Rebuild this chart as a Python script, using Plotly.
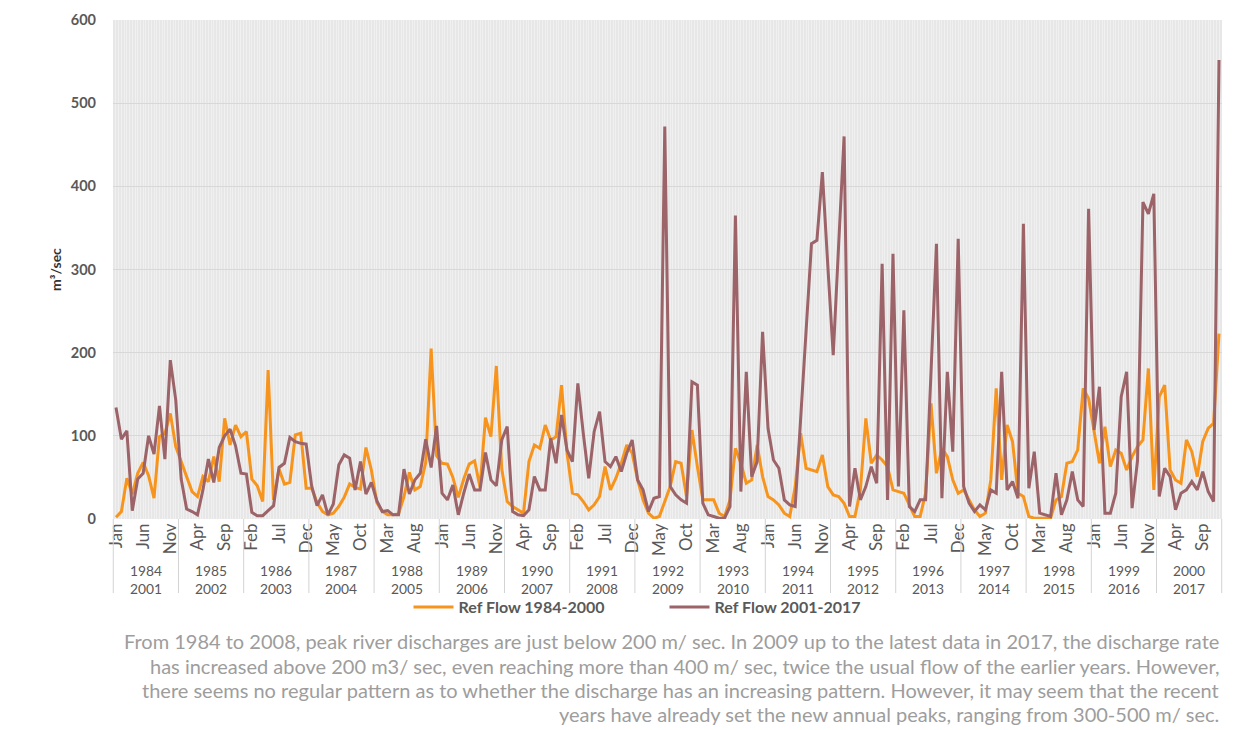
import plotly.graph_objects as go

months = ['Jan', 'Feb', 'Mar', 'Apr', 'May', 'Jun', 'Jul', 'Aug', 'Sep', 'Oct', 'Nov', 'Dec']
years_early = list(range(1984, 2001))
years_late = list(range(2001, 2018))

# Monthly reference flow (m3/sec), Jan..Dec for each year
flow_1984_2000 = [
    2, 9, 49, 30, 55, 68, 52, 25, 99, 103, 127, 87,        # 1984
    69, 51, 33, 27, 51, 45, 75, 45, 121, 89, 113, 99,      # 1985
    105, 48, 40, 21, 179, 23, 60, 42, 44, 101, 103, 37,    # 1986
    37, 20, 9, 5, 7, 15, 26, 42, 38, 36, 86, 59,           # 1987
    20, 9, 5, 5, 6, 27, 56, 35, 39, 68, 205, 76,           # 1988
    67, 66, 50, 26, 48, 66, 70, 38, 122, 99, 184, 60,      # 1989
    21, 15, 11, 7, 69, 89, 85, 113, 95, 99, 161, 80,       # 1990
    31, 29, 21, 11, 17, 27, 63, 35, 49, 67, 89, 79,        # 1991
    47, 23, 7, 1, 3, 21, 39, 69, 67, 27, 107, 63,          # 1992
    23, 23, 23, 7, 3, 23, 85, 67, 43, 47, 89, 51,          # 1993
    27, 23, 17, 7, 3, 39, 103, 61, 59, 57, 77, 39,         # 1994
    29, 27, 19, 3, 3, 35, 121, 67, 77, 71, 63, 35,         # 1995
    33, 31, 17, 3, 3, 31, 139, 55, 85, 75, 47, 31,         # 1996
    35, 23, 11, 3, 7, 47, 157, 47, 113, 93, 31, 27,        # 1997
    3, 1, 1, 1, 1, 23, 27, 67, 69, 83, 157, 145,           # 1998
    107, 67, 111, 63, 83, 79, 59, 75, 87, 95, 181, 35,     # 1999
    147, 161, 59, 47, 43, 95, 81, 51, 93, 109, 115, 223,   # 2000
]

flow_2001_2017 = [
    134, 96, 106, 10, 48, 55, 100, 78, 136, 72, 191, 143,  # 2001
    48, 12, 9, 5, 35, 72, 44, 86, 100, 108, 88, 55,        # 2002
    54, 8, 4, 4, 10, 16, 62, 67, 98, 93, 91, 90,           # 2003
    40, 16, 29, 5, 18, 65, 77, 73, 35, 69, 30, 44,         # 2004
    22, 9, 10, 5, 5, 60, 30, 47, 55, 96, 62, 112,          # 2005
    31, 23, 41, 5, 31, 54, 35, 35, 80, 47, 40, 95,         # 2006
    111, 9, 5, 4, 11, 51, 35, 35, 97, 67, 125, 83,         # 2007
    69, 163, 103, 49, 105, 129, 69, 63, 75, 57, 79, 95,    # 2008
    47, 35, 9, 25, 27, 472, 39, 29, 23, 19, 165, 161,      # 2009
    19, 5, 3, 1, 1, 15, 365, 33, 177, 51, 69, 225,         # 2010
    109, 71, 61, 23, 17, 15, 120, 225, 331, 335, 417, 305, # 2011
    197, 330, 460, 15, 61, 23, 39, 63, 43, 307, 23, 319,   # 2012
    39, 251, 15, 9, 23, 23, 170, 331, 25, 177, 81, 337,    # 2013
    39, 19, 9, 17, 11, 35, 31, 177, 35, 45, 25, 355,       # 2014
    37, 81, 7, 5, 3, 55, 5, 23, 57, 23, 15, 373,           # 2015
    107, 159, 7, 7, 31, 147, 177, 13, 70, 381, 367, 391,   # 2016
    27, 61, 51, 11, 31, 35, 45, 35, 57, 33, 21, 552,       # 2017
]

caption_lines = [
    "From 1984 to 2008, peak river discharges are just below 200 m/ sec. In 2009 up to the latest data in 2017, the discharge rate",
    "has increased above 200 m3/ sec, even reaching more than 400 m/ sec, twice the usual flow of the earlier years. However,",
    "there seems no regular pattern as to whether the discharge has an increasing pattern. However, it may seem that the recent",
    "years have already set the new annual peaks, ranging from 300-500 m/ sec.",
]

n = len(flow_1984_2000)
x = list(range(n))
tick_idx = list(range(0, n, 5))
tick_text = [months[i % 12] for i in tick_idx]
x_min, x_max = -0.55, n - 1 + 0.55

ORANGE = '#F7941D'
BROWN = '#9C6368'
GREY = '#595959'

fig = go.Figure()
fig.add_trace(go.Scatter(x=x, y=flow_1984_2000, mode='lines', name='Ref Flow 1984-2000',
                         line=dict(color=ORANGE, width=3)))
fig.add_trace(go.Scatter(x=x, y=flow_2001_2017, mode='lines', name='Ref Flow 2001-2017',
                         line=dict(color=BROWN, width=3)))

W, H = 1235, 730
ml, mr, mt, mb = 113, 13, 20, 211
ph = H - mt - mb


def py(pix):
    return (H - mb - pix) / ph


def px_of(xv):
    return (xv - x_min) / (x_max - x_min)


shapes = []
for k in range(len(years_early) + 1):
    xp = px_of(12 * k - 0.5)
    shapes.append(dict(type='line', xref='paper', yref='paper', x0=xp, x1=xp,
                       y0=0, y1=py(593), line=dict(color='#d3d3d3', width=1)))

annotations = []
for k, (ya, yb) in enumerate(zip(years_early, years_late)):
    annotations.append(dict(x=12 * k + 5.5, xref='x', y=py(579), yref='paper',
                            text=f"{ya}<br>{yb}", showarrow=False, yanchor='middle',
                            font=dict(family='Lato', size=13.8, color=GREY)))

cap_y = [641, 665.5, 690, 714]
for line, yy in zip(caption_lines, cap_y):
    annotations.append(dict(x=(1221 - ml) / (W - ml - mr), xref='paper', xanchor='right',
                            y=py(yy), yref='paper', yanchor='middle', text=line,
                            showarrow=False, align='right',
                            font=dict(family='Lato', size=20, color='#9d9d9d')))

fig.update_layout(
    width=W, height=H,
    margin=dict(l=ml, r=mr, t=mt, b=mb),
    paper_bgcolor='white',
    plot_bgcolor='#e7e7e7',
    showlegend=True,
    legend=dict(orientation='h', x=(629 - ml) / (W - ml - mr) + 0.032, xanchor='center',
                y=py(607), yanchor='middle',
                font=dict(family='Lato', size=16, color=GREY, weight='bold'),
                bgcolor='rgba(0,0,0,0)', itemwidth=40, tracegroupgap=0,
                entrywidth=201, entrywidthmode='pixels'),
    shapes=shapes,
    annotations=annotations,
    xaxis=dict(range=[x_min, x_max], tickmode='array', tickvals=tick_idx, ticktext=tick_text,
               tickangle=-90, showgrid=False, zeroline=False, showline=False, ticks='',
               tickfont=dict(family='Lato', size=17, color=GREY),
               minor=dict(tickmode='linear', tick0=0, dtick=0.5, showgrid=True,
                          gridcolor='#f0f0f0', gridwidth=1, ticks='')),
    yaxis=dict(range=[0, 600], dtick=100, showgrid=True, gridcolor='#d8d8d8', gridwidth=1,
               zeroline=False, showline=False, ticks='', ticklabelstandoff=16,
               tickfont=dict(family='Lato', size=14.5, color=GREY, weight='bold'),
               title=dict(text='m³/sec', standoff=5,
                          font=dict(family='Lato', size=14, color='#333333', weight='bold'))),
)

fig.write_html("out.html", config={'displayModeBar': False},
               post_script="document.body.style.margin='0';document.body.style.overflow='hidden';")
